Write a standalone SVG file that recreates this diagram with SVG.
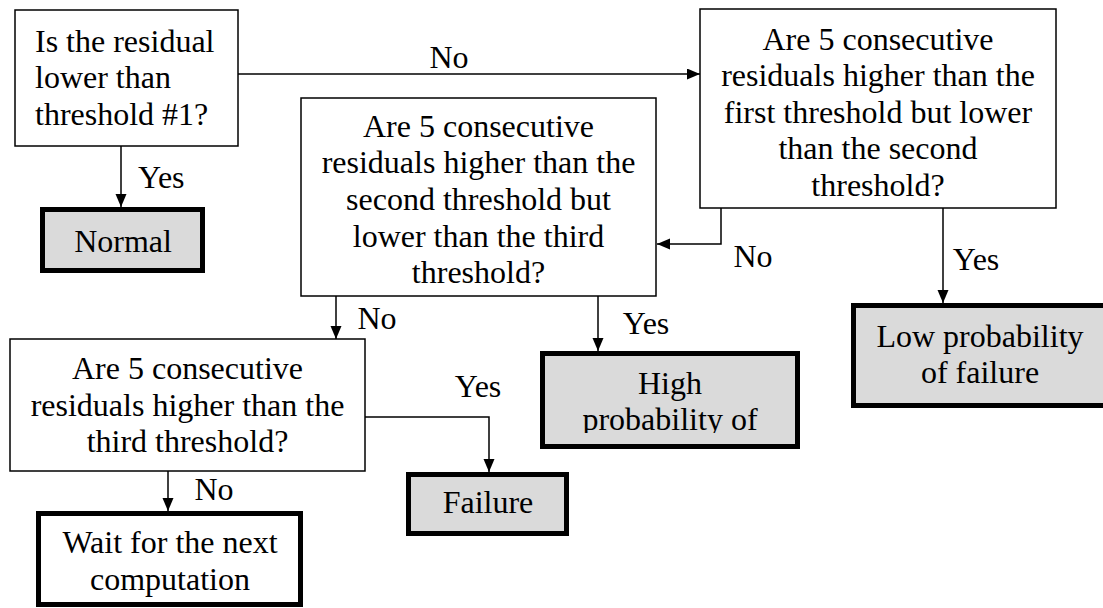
<svg xmlns="http://www.w3.org/2000/svg" width="1103" height="608" viewBox="0 0 1103 608">
<style>
text{font-family:"Liberation Serif","Times New Roman",Times,Tinos,"Noto Serif","DejaVu Serif",FreeSerif,serif;font-size:32px;fill:#000}
.m{text-anchor:middle}
.q{fill:#fff;stroke:#000;stroke-width:1.5}
.r{fill:#dadada;stroke:#000;stroke-width:5}
.w{fill:#fff;stroke:#000;stroke-width:5}
.c{fill:none;stroke:#000;stroke-width:1.5}
</style>
<defs>
<marker id="ah" markerUnits="userSpaceOnUse" markerWidth="14" markerHeight="12" refX="13" refY="5.5" orient="auto">
<path d="M0,0 L13,5.5 L0,11 z" fill="#000"/>
</marker>
<clipPath id="hclip"><rect x="540" y="351" width="260" height="82"/></clipPath>
</defs>
<rect width="1103" height="608" fill="#fff"/>
<g id="connectors">
<line class="c" x1="121" y1="146" x2="121" y2="207" marker-end="url(#ah)"/>
<line class="c" x1="238" y1="74" x2="700" y2="74" marker-end="url(#ah)"/>
<polyline class="c" points="721,208 721,244 657,244" marker-end="url(#ah)"/>
<line class="c" x1="943" y1="208" x2="943" y2="303" marker-end="url(#ah)"/>
<line class="c" x1="336" y1="296" x2="336" y2="339" marker-end="url(#ah)"/>
<line class="c" x1="598" y1="296" x2="598" y2="351" marker-end="url(#ah)"/>
<polyline class="c" points="365,417 489,417 489,472" marker-end="url(#ah)"/>
<line class="c" x1="168" y1="471" x2="168" y2="511" marker-end="url(#ah)"/>
<text x="138" y="188">Yes</text>
<text class="m" x="449" y="68">No</text>
<text class="m" x="753" y="267">No</text>
<text class="m" x="976" y="270">Yes</text>
<text class="m" x="377" y="329">No</text>
<text class="m" x="646" y="334">Yes</text>
<text class="m" x="478" y="397">Yes</text>
<text class="m" x="214" y="500">No</text>
</g>
<g id="q1">
<rect class="q" x="15" y="10" width="223" height="136"/>
<text x="35" y="52">Is the residual</text>
<text x="35" y="88">lower than</text>
<text x="35" y="125">threshold #1?</text>
</g>
<g id="normal">
<rect class="r" x="42.5" y="209.5" width="160" height="61"/>
<text class="m" x="123" y="252">Normal</text>
</g>
<g id="q2">
<rect class="q" x="700" y="9" width="356" height="199"/>
<text class="m" x="878" y="49.5">Are 5 consecutive</text>
<text class="m" x="878" y="86">residuals higher than the</text>
<text class="m" x="878" y="122.5">first threshold but lower</text>
<text class="m" x="878" y="159">than the second</text>
<text class="m" x="878" y="195.5">threshold?</text>
</g>
<g id="q3">
<rect class="q" x="301" y="98" width="355" height="198"/>
<text class="m" x="478.5" y="136.5">Are 5 consecutive</text>
<text class="m" x="478.5" y="173">residuals higher than the</text>
<text class="m" x="478.5" y="210">second threshold but</text>
<text class="m" x="478.5" y="247">lower than the third</text>
<text class="m" x="478.5" y="283">threshold?</text>
</g>
<g id="low">
<rect class="r" x="853.5" y="305.5" width="253" height="100"/>
<text class="m" x="980" y="347">Low probability</text>
<text class="m" x="980" y="383">of failure</text>
</g>
<g id="high">
<rect class="r" x="542.5" y="353.5" width="255" height="93"/>
<g clip-path="url(#hclip)">
<text class="m" x="670" y="394">High</text>
<text class="m" x="670" y="430">probability of</text>
</g>
</g>
<g id="q4">
<rect class="q" x="10" y="339" width="355" height="132"/>
<text class="m" x="187.5" y="379">Are 5 consecutive</text>
<text class="m" x="187.5" y="415.5">residuals higher than the</text>
<text class="m" x="187.5" y="452">third threshold?</text>
</g>
<g id="failure">
<rect class="r" x="408.5" y="474.5" width="158" height="59"/>
<text class="m" x="488" y="513">Failure</text>
</g>
<g id="wait">
<rect class="w" x="38.5" y="513.5" width="262" height="91"/>
<text class="m" x="170" y="553">Wait for the next</text>
<text class="m" x="170" y="590">computation</text>
</g>
</svg>
